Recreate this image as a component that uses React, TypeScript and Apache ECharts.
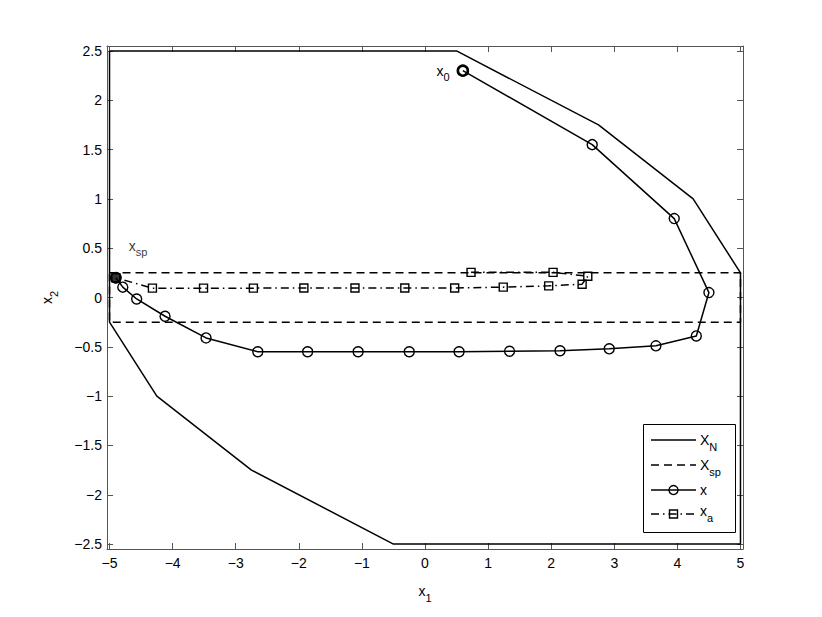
import React, { useEffect, useRef } from 'react';
import * as echarts from 'echarts';

// Tick labels
const xTicks = [-5, -4, -3, -2, -1, 0, 1, 2, 3, 4, 5];
const yTicks = [-2.5, -2, -1.5, -1, -0.5, 0, 0.5, 1, 1.5, 2, 2.5];

// X_N : terminal set (closed polygon)
const terminalSetX = [-5, 0.5, 2.75, 4.25, 5, 5, -0.5, -2.75, -4.25, -5, -5];
const terminalSetY = [2.5, 2.5, 1.75, 1.0, 0.25, -2.5, -2.5, -1.75, -1.0, -0.25, 2.5];

// X_sp : set-point box
const setpointSetX = [-5, 5, 5, -5, -5];
const setpointSetY = [0.25, 0.25, -0.25, -0.25, 0.25];

// x : closed-loop state trajectory
const stateX = [0.6, 2.65, 3.95, 4.5, 4.3, 3.66, 2.92, 2.14, 1.34, 0.54, -0.25, -1.06, -1.86, -2.65, -3.47, -4.12, -4.57, -4.79, -4.9];
const stateY = [2.3, 1.55, 0.8, 0.05, -0.39, -0.49, -0.52, -0.54, -0.545, -0.55, -0.55, -0.55, -0.55, -0.55, -0.41, -0.19, -0.015, 0.105, 0.2];

// x_a : artificial reference trajectory
const artX = [0.73, 2.03, 2.58, 2.49, 1.96, 1.24, 0.47, -0.32, -1.11, -1.92, -2.72, -3.51, -4.32, -4.9];
const artY = [0.255, 0.255, 0.215, 0.135, 0.118, 0.105, 0.097, 0.097, 0.097, 0.097, 0.095, 0.095, 0.095, 0.2];

// x_sp : set point
const setpointX = [-4.9];
const setpointY = [0.2];

// Legend entries
const legendNames = ['X_N', 'X_sp', 'x', 'x_a'];
const legendTexts = ['{m|X}{s|N}', '{m|X}{s|sp}', '{m|x}', '{m|x}{s|a}'];

const FONT = "'Liberation Sans', Arial, Helvetica, sans-serif";

const rich = {
  m: { fontSize: 14, lineHeight: 24, fontFamily: FONT, color: '#000', verticalAlign: 'middle' },
  s: { fontSize: 11, lineHeight: 14, fontFamily: FONT, color: '#000', verticalAlign: 'bottom' },
};

const DASH = [8, 5];
const DASHDOT = [8, 4, 1.5, 4];

const zip = (xs: number[], ys: number[]) => xs.map((x, i) => [x, ys[i]]);
const minus = (v: number) => String(v).replace('-', '\u2212');

function buildLegend() {
  const boxX = 643;
  const boxY = 424;
  const boxW = 92;
  const boxH = 108;
  const rowY = [440, 465, 490, 514];
  const lx1 = 651;
  const lx2 = 696;
  const cx = (lx1 + lx2) / 2;
  const styles = [
    { dash: null, marker: null },
    { dash: DASH, marker: null },
    { dash: null, marker: 'circle' },
    { dash: DASHDOT, marker: 'rect' },
  ];
  const children: any[] = [
    {
      type: 'rect',
      shape: { x: boxX + 0.5, y: boxY + 0.5, width: boxW, height: boxH },
      style: { fill: '#fff', stroke: '#000', lineWidth: 1 },
    },
  ];
  legendNames.forEach((name, i) => {
    const y = rowY[i];
    const st = styles[i];
    children.push({
      type: 'line',
      name,
      shape: { x1: lx1, y1: y, x2: lx2, y2: y },
      style: { stroke: '#000', lineWidth: 1.5, lineDash: st.dash || undefined },
    });
    if (st.marker === 'circle') {
      children.push({
        type: 'circle',
        shape: { cx, cy: y, r: 4.5 },
        style: { fill: 'rgba(255,255,255,0)', stroke: '#000', lineWidth: 1.4 },
      });
    } else if (st.marker === 'rect') {
      children.push({
        type: 'rect',
        shape: { x: cx - 4, y: y - 4, width: 8, height: 8 },
        style: { fill: 'rgba(255,255,255,0)', stroke: '#000', lineWidth: 1.4 },
      });
    }
    children.push({
      type: 'text',
      x: 700,
      y: i === 3 ? y - 3 : y,
      style: {
        text: legendTexts[i],
        rich,
        fontFamily: FONT,
        align: 'left',
        verticalAlign: 'middle',
      },
    });
  });
  return { type: 'group', z: 100, children };
}

export default function App() {
  const ref = useRef<HTMLDivElement>(null);

  useEffect(() => {
    if (!ref.current) return;
    const chart = echarts.init(ref.current, undefined, { renderer: 'svg' });

    const axisLineStyle = { color: '#555', width: 1 };
    const xCommon = {
      type: 'value' as const,
      min: -5.04,
      max: 5.04,
      splitLine: { show: false },
      axisLine: { show: true, onZero: false, lineStyle: axisLineStyle },
      axisTick: { show: true, inside: true, length: 6, lineStyle: axisLineStyle, customValues: xTicks },
    };
    const yCommon = {
      type: 'value' as const,
      min: -2.55,
      max: 2.55,
      splitLine: { show: false },
      axisLine: { show: true, onZero: false, lineStyle: axisLineStyle },
      axisTick: { show: true, inside: true, length: 6, lineStyle: axisLineStyle, customValues: yTicks },
    };

    const stateData = zip(stateX, stateY).map((p, i) =>
      i === 0
        ? {
            value: p,
            symbolSize: 10,
            itemStyle: { borderWidth: 2.6 },
            label: {
              show: true,
              position: 'left',
              distance: 7,
              formatter: '{m|x}{s|0}',
              rich,
            },
          }
        : { value: p }
    );

    chart.setOption({
      animation: false,
      backgroundColor: '#fff',
      textStyle: { fontFamily: FONT },
      grid: { left: 107, top: 46, width: 636, height: 503, outerBoundsMode: 'none' },
      xAxis: [
        {
          ...xCommon,
          position: 'bottom',
          name: '{m|x}{s|1}',
          nameLocation: 'middle',
          nameGap: 30,
          nameTextStyle: { rich },
          axisLabel: {
            show: true,
            customValues: xTicks,
            formatter: minus,
            fontSize: 14,
            color: '#000',
            fontFamily: FONT,
            margin: 7,
          },
        },
        {
          ...xCommon,
          position: 'top',
          axisLabel: { show: false },
        },
      ],
      yAxis: [
        {
          ...yCommon,
          position: 'left',
          name: '{m|x}{s|2}',
          nameLocation: 'middle',
          nameRotate: 90,
          nameGap: 48,
          nameTextStyle: { rich },
          axisLabel: {
            show: true,
            customValues: yTicks,
            formatter: minus,
            fontSize: 14,
            color: '#000',
            fontFamily: FONT,
            margin: 5,
          },
        },
        {
          ...yCommon,
          position: 'right',
          axisLabel: { show: false },
        },
      ],
      graphic: [buildLegend()],
      series: [
        {
          name: 'X_N',
          type: 'line',
          data: zip(terminalSetX, terminalSetY),
          symbol: 'none',
          lineStyle: { color: '#000', width: 1.5, type: 'solid' },
          itemStyle: { color: '#000' },
          z: 2,
        },
        {
          name: 'X_sp',
          type: 'line',
          data: zip(setpointSetX, setpointSetY),
          symbol: 'none',
          lineStyle: { color: '#000', width: 1.5, type: DASH },
          itemStyle: { color: '#000' },
          z: 2,
        },
        {
          name: 'x',
          type: 'line',
          data: stateData,
          symbol: 'circle',
          symbolSize: 10,
          showAllSymbol: true,
          lineStyle: { color: '#000', width: 1.5 },
          itemStyle: { color: 'rgba(255,255,255,0)', borderColor: '#000', borderWidth: 1.4 },
          z: 3,
        },
        {
          name: 'x_a',
          type: 'line',
          data: zip(artX, artY),
          symbol: 'rect',
          symbolSize: 8,
          showAllSymbol: true,
          lineStyle: { color: '#000', width: 1.5, type: DASHDOT },
          itemStyle: { color: 'rgba(255,255,255,0)', borderColor: '#000', borderWidth: 1.4 },
          z: 3,
        },
        {
          name: 'x_sp',
          type: 'scatter',
          data: zip(setpointX, setpointY),
          symbol: 'circle',
          symbolSize: 12,
          itemStyle: { color: '#000' },
          label: {
            show: true,
            position: 'right',
            distance: 5,
            offset: [2, -32],
            formatter: '{m|x}{s|sp}',
            rich,
          },
          z: 5,
        },
      ],
    });

    return () => chart.dispose();
  }, []);

  return (
    <div
      ref={ref}
      style={{ position: 'fixed', left: 0, top: 0, width: 822, height: 617, background: '#fff' }}
    />
  );
}
